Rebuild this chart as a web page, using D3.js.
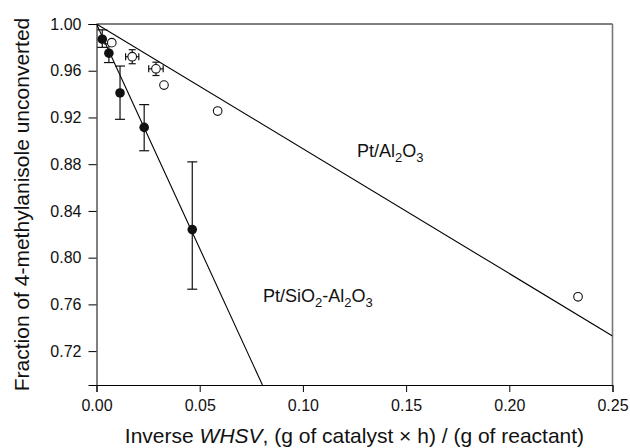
<!DOCTYPE html>
<html>
<head>
<meta charset="utf-8">
<script src="https://cdn.jsdelivr.net/npm/d3@7"></script>
<style>
  body { margin: 0; background: #fff; }
  svg { font-family: "Liberation Sans", Arial, sans-serif; }
</style>
</head>
<body>
<svg id="chart"></svg>
<script>
// Pt/SiO2-Al2O3 (filled, with y error bars)
const siAlX = [0.0028, 0.006, 0.0114, 0.0231, 0.0464];
const siAlY = [0.987, 0.975, 0.941, 0.9115, 0.824];
const siAlLo = [0.980, 0.967, 0.9184, 0.8915, 0.773];
const siAlHi = [0.995, 0.983, 0.964, 0.931, 0.882];

// Pt/Al2O3 (open circles)
const alX = [0.0074, 0.0173, 0.0288, 0.0327, 0.0587, 0.2333];
const alY = [0.984, 0.972, 0.9616, 0.9477, 0.9255, 0.7665];
const alYErr = [0, 0.006, 0.0057, 0, 0, 0];
const alXErr = [0, 0.0032, 0.0035, 0, 0, 0];

// fitted lines
const fitAlX = [0, 0.25];
const fitAlY = [1.0, 0.733];
const fitSiX = [0, 0.0804];
const fitSiY = [1.0, 0.691];

const xTicks = [0, 0.05, 0.10, 0.15, 0.20, 0.25];
const yTicks = [0.72, 0.76, 0.80, 0.84, 0.88, 0.92, 0.96, 1.00];

const W = 630, H = 448;
const margin = { top: 24, right: 17.5, bottom: 63, left: 96.5 };
const width = W - margin.left - margin.right;
const height = H - margin.top - margin.bottom;

const root = d3.select("#chart").attr("width", W).attr("height", H);
const svg = root.append("g")
  .attr("transform", "translate(" + margin.left + "," + margin.top + ")");

const x = d3.scaleLinear().domain([0, 0.25]).range([0, width]);
const y = d3.scaleLinear().domain([0.691, 1.00]).range([height, 0]);

// frame top / right
svg.append("line").attr("x1", 0).attr("x2", width).attr("y1", 0).attr("y2", 0)
  .attr("stroke", "#000").attr("stroke-width", 1);
svg.append("line").attr("x1", width).attr("x2", width).attr("y1", 0).attr("y2", height)
  .attr("stroke", "#777").attr("stroke-width", 1.6);

const xAxis = d3.axisBottom(x).tickValues(xTicks).tickFormat(d3.format(".2f"))
  .tickSizeOuter(0).tickSize(7).tickPadding(8);
const yAxis = d3.axisLeft(y).tickValues(yTicks).tickFormat(d3.format(".2f"))
  .tickSizeOuter(0).tickSize(8).tickPadding(7);

svg.append("g").attr("transform", "translate(0," + height + ")").call(xAxis);
svg.append("g").call(yAxis);
svg.selectAll(".tick text").attr("font-size", 16).attr("fill", "#111")
  .attr("font-family", "Liberation Sans, Arial, sans-serif");
svg.selectAll(".domain, .tick line").attr("stroke", "#000");

// clip for lines
svg.append("clipPath").attr("id", "clip").append("rect")
  .attr("width", width).attr("height", height);

const line = d3.line().x(d => x(d[0])).y(d => y(d[1]));
svg.append("path").datum(d3.zip(fitAlX, fitAlY)).attr("d", line)
  .attr("fill", "none").attr("stroke", "#000").attr("stroke-width", 1.1)
  .attr("clip-path", "url(#clip)");
svg.append("path").datum(d3.zip(fitSiX, fitSiY)).attr("d", line)
  .attr("fill", "none").attr("stroke", "#000").attr("stroke-width", 1.1)
  .attr("clip-path", "url(#clip)");

// error bars for filled series
const cap = 5;
const siData = siAlX.map((v, i) => ({ x: v, y: siAlY[i], lo: siAlLo[i], hi: siAlHi[i] }));
const eb = svg.append("g").attr("stroke", "#111").attr("stroke-width", 1.2);
siData.forEach(d => {
  eb.append("line").attr("x1", x(d.x)).attr("x2", x(d.x)).attr("y1", y(d.lo)).attr("y2", y(d.hi));
  eb.append("line").attr("x1", x(d.x) - cap).attr("x2", x(d.x) + cap).attr("y1", y(d.lo)).attr("y2", y(d.lo));
  eb.append("line").attr("x1", x(d.x) - cap).attr("x2", x(d.x) + cap).attr("y1", y(d.hi)).attr("y2", y(d.hi));
});

// open series error bars
const alData = alX.map((v, i) => ({ x: v, y: alY[i], ey: alYErr[i], ex: alXErr[i] }));
const eb2 = svg.append("g").attr("stroke", "#111").attr("stroke-width", 1.2);
alData.filter(d => d.ey > 0).forEach(d => {
  const c = 3.5;
  eb2.append("line").attr("x1", x(d.x)).attr("x2", x(d.x)).attr("y1", y(d.y - d.ey)).attr("y2", y(d.y + d.ey));
  eb2.append("line").attr("x1", x(d.x) - c).attr("x2", x(d.x) + c).attr("y1", y(d.y - d.ey)).attr("y2", y(d.y - d.ey));
  eb2.append("line").attr("x1", x(d.x) - c).attr("x2", x(d.x) + c).attr("y1", y(d.y + d.ey)).attr("y2", y(d.y + d.ey));
  eb2.append("line").attr("x1", x(d.x - d.ex)).attr("x2", x(d.x + d.ex)).attr("y1", y(d.y)).attr("y2", y(d.y));
  eb2.append("line").attr("x1", x(d.x - d.ex)).attr("x2", x(d.x - d.ex)).attr("y1", y(d.y) - c).attr("y2", y(d.y) + c);
  eb2.append("line").attr("x1", x(d.x + d.ex)).attr("x2", x(d.x + d.ex)).attr("y1", y(d.y) - c).attr("y2", y(d.y) + c);
});

svg.selectAll(".open").data(alData).enter().append("circle")
  .attr("class", "open")
  .attr("cx", d => x(d.x)).attr("cy", d => y(d.y)).attr("r", 4.3)
  .attr("fill", "#fff").attr("stroke", "#111").attr("stroke-width", 1.1);

svg.selectAll(".filled").data(siData).enter().append("circle")
  .attr("class", "filled")
  .attr("cx", d => x(d.x)).attr("cy", d => y(d.y)).attr("r", 4.8)
  .attr("fill", "#111");

// series labels
function chemLabel(px, py, parts) {
  const t = svg.append("text").attr("x", px).attr("y", py)
    .attr("font-size", 18).attr("fill", "#111");
  parts.forEach(p => {
    if (p.sub) {
      t.append("tspan").attr("font-size", 13).attr("dy", 5).text(p.s);
    } else {
      t.append("tspan").attr("dy", p.after ? -5 : 0).text(p.s);
    }
  });
}
chemLabel(357 - margin.left, 157 - margin.top, [
  { s: "Pt/Al" }, { s: "2", sub: true }, { s: "O", after: true }, { s: "3", sub: true }
]);
chemLabel(263 - margin.left, 302 - margin.top, [
  { s: "Pt/SiO" }, { s: "2", sub: true }, { s: "-Al", after: true }, { s: "2", sub: true },
  { s: "O", after: true }, { s: "3", sub: true }
]);

// axis titles
const xt = root.append("text")
  .attr("x", margin.left + width / 2).attr("y", 443)
  .attr("text-anchor", "middle").attr("font-size", 21).attr("fill", "#111");
xt.append("tspan").text("Inverse ");
xt.append("tspan").attr("font-style", "italic").text("WHSV");
xt.append("tspan").text(", (g of catalyst \u00d7 h) / (g of reactant)");

root.append("text")
  .attr("transform", "translate(29," + (margin.top + height / 2) + ") rotate(-90)")
  .attr("text-anchor", "middle").attr("font-size", 21).attr("fill", "#111")
  .text("Fraction of 4-methylanisole unconverted");
</script>
</body>
</html>
